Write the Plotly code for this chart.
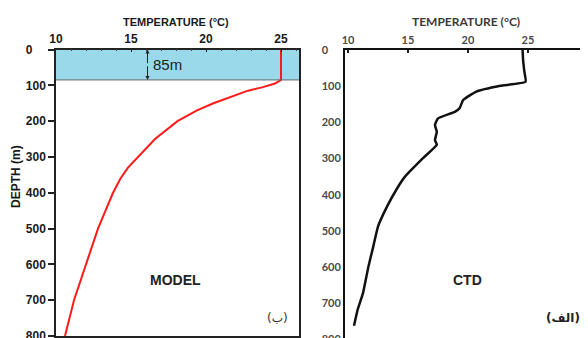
import plotly.graph_objects as go

# ---------------- data ----------------
model_depth = [0, 85, 95, 105, 115, 130, 150, 170, 200, 250, 300, 330, 360, 400, 500, 600, 700, 800]
model_temp = [25.0, 25.0, 24.6, 23.8, 22.8, 21.8, 20.5, 19.4, 18.1, 16.6, 15.5, 14.8, 14.3, 13.8, 12.8, 12.0, 11.2, 10.6]

ctd_depth = [0, 30, 60, 88, 99, 115, 138, 161, 171, 189, 207, 226, 249, 262, 299, 350, 382, 433, 488, 544, 599, 672, 718, 762]
ctd_temp = [24.55, 24.6, 24.7, 24.8, 22.7, 20.7, 19.6, 19.3, 18.9, 17.5, 17.25, 17.4, 17.25, 17.4, 16.25, 14.75, 14.1, 13.25, 12.5, 12.1, 11.7, 11.25, 10.8, 10.5]

mixed_layer_depth = 85
temp_ticks = [10, 15, 20, 25, 30]
depth_ticks = [0, 100, 200, 300, 400, 500, 600, 700, 800]
depth_tick_labels = ["0", "100", "200", "300", "400", "500", "600", "700", "800"]

# ---------------- figure ----------------
W, H = 588, 338
OFF = 8  # page body margin offset

def px(x):
    return (x - OFF) / W

def py(y):
    return (H - (y - OFF)) / H

# left-aligned looking tick labels (pad with figure spaces)
maxlen = max(len(s) for s in depth_tick_labels)
padded = [s + "\u2007" * (maxlen - len(s)) for s in depth_tick_labels]

fig = go.Figure()

fig.add_trace(go.Scatter(x=model_temp, y=model_depth, mode="lines",
                         line=dict(color="#ff1a1a", width=2), xaxis="x", yaxis="y",
                         showlegend=False, hoverinfo="skip"))
fig.add_trace(go.Scatter(x=ctd_temp, y=ctd_depth, mode="lines",
                         line=dict(color="#111111", width=2.5, shape="spline", smoothing=0.4),
                         xaxis="x2", yaxis="y2", showlegend=False, hoverinfo="skip"))

left_font = dict(family="Liberation Sans, Arial", size=12, color="#1a1a1a", weight="bold")
right_font = dict(family="Lato, Open Sans", size=11, color="#4a4a4a", weight="bold")

fig.update_layout(
    width=W, height=H,
    margin=dict(l=0, r=0, t=0, b=0, autoexpand=False),
    paper_bgcolor="white", plot_bgcolor="white",
    xaxis=dict(domain=[px(56), px(299)], range=[10, 26.2], side="top", anchor="y",
               automargin=False,
               tickvals=temp_ticks[:4], ticks="inside", ticklen=3, tickwidth=1,
               tickcolor="#222", showline=True, linecolor="#222", linewidth=1.5,
               mirror=True, showgrid=False, zeroline=False, tickfont=left_font,
               minor=dict(dtick=1, ticks="inside", ticklen=2, tickcolor="#444")),
    yaxis=dict(domain=[py(336), py(49.5)], range=[800, 0], anchor="x",
               automargin=False,
               tickvals=depth_ticks, ticktext=padded, ticks="outside", ticklen=6,
               tickwidth=1.5, tickcolor="#222", showline=True, linecolor="#222",
               linewidth=1.5, mirror=True, showgrid=False, zeroline=False,
               tickfont=left_font),
    xaxis2=dict(domain=[px(345), 1.0], range=[9.75, 30.67], side="top", anchor="y2",
                automargin=False,
                tickvals=temp_ticks, ticks="inside", ticklen=3, tickwidth=1.5,
                tickcolor="#222", showline=True, linecolor="#111", linewidth=2,
                showgrid=False, zeroline=False, tickfont=right_font),
    yaxis2=dict(domain=[0, py(50)], range=[818, 0], anchor="x2",
                automargin=False,
                tickvals=depth_ticks, ticktext=padded, ticks="", showline=True,
                linecolor="#111", linewidth=2, showgrid=False, zeroline=False,
                tickfont=right_font),
    shapes=[
        dict(type="rect", xref="x", yref="y", x0=10, x1=26.2, y0=0, y1=mixed_layer_depth,
             fillcolor="#99d9ea", line=dict(width=0), layer="below"),
        dict(type="line", xref="x", yref="y", x0=10, x1=26.2, y0=mixed_layer_depth,
             y1=mixed_layer_depth, line=dict(color="#666", width=1)),
    ],
)

ann = []
# double arrow for 85 m
ann.append(dict(x=16.1, y=0, ax=16.1, ay=mixed_layer_depth / 2, xref="x", yref="y",
                axref="x", ayref="y", showarrow=True, arrowhead=2, arrowsize=0.8,
                arrowwidth=1, arrowcolor="#222", text=""))
ann.append(dict(x=16.1, y=mixed_layer_depth, ax=16.1, ay=mixed_layer_depth / 2, xref="x",
                yref="y", axref="x", ayref="y", showarrow=True, arrowhead=2,
                arrowsize=0.8, arrowwidth=1, arrowcolor="#222", text=""))
ann.append(dict(x=16.3, y=42, xref="x", yref="y", text="85m", showarrow=False,
                xanchor="left", yanchor="middle",
                font=dict(family="Liberation Sans, Arial", size=15, color="#222")))

def label(x, y, text, font, angle=0):
    ann.append(dict(x=px(x), y=py(y), xref="paper", yref="paper", text=text,
                    xanchor="center", yanchor="middle", textangle=angle,
                    showarrow=False, font=font))

label(176, 22, "TEMPERATURE (°C)",
      dict(family="Liberation Sans, Arial", size=11, color="#1a1a1a", weight="bold"))
label(466, 22, "TEMPERATURE (°C)",
      dict(family="Lato, Open Sans", size=12, color="#3a3a3a", weight="bold"))
label(16, 177, "DEPTH (m)",
      dict(family="Liberation Sans, Arial", size=12, color="#1a1a1a", weight="bold"), -90)
label(175, 280, "MODEL",
      dict(family="Liberation Sans, Arial", size=14, color="#222", weight="bold"))
label(467, 280, "CTD",
      dict(family="Liberation Sans, Arial", size=14, color="#222", weight="bold"))
label(277, 318, "(ب)", dict(family="DejaVu Sans", size=12, color="#333"))
label(563, 318, "(الف)", dict(family="DejaVu Sans", size=12, color="#222", weight="bold"))

fig.update_layout(annotations=ann)

fig.write_html("out.html")
